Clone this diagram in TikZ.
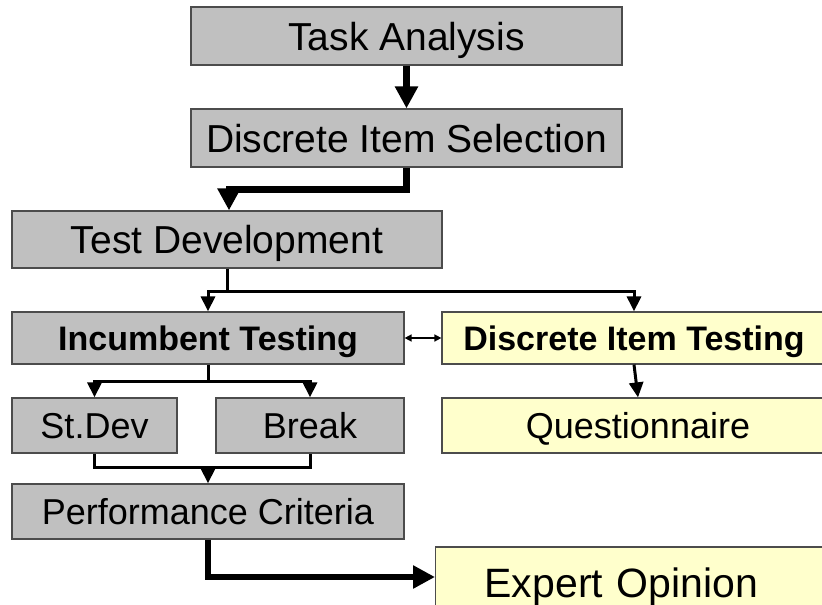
\documentclass[tikz,border=0pt]{standalone}
\usepackage{fontspec}
\setmainfont{Liberation Sans}
\usetikzlibrary{arrows.meta}
\definecolor{boxgray}{HTML}{C0C0C0}
\definecolor{boxyellow}{HTML}{FFFFCC}

\begin{document}
\begin{tikzpicture}[x=1pt,y=-1pt,
    box/.style={draw=black!70,line width=1.2pt,inner sep=0pt,text depth=0pt},
    graybox/.style={box,fill=boxgray},
    yelbox/.style={box,fill=boxyellow},
    bigtxt/.style={font=\fontsize{39}{39}\selectfont,text height=28pt},
    midtxt/.style={font=\fontsize{36}{36}\selectfont,text height=25.8pt},
    boldtxt/.style={font=\fontsize{34}{34}\selectfont\bfseries,text height=24.4pt},
    hugetxt/.style={font=\fontsize{41}{41}\selectfont,text height=29.4pt},
    bigflow/.style={line width=6.5pt,-{Triangle[length=22pt,width=22pt]}},
    splitline/.style={line width=3pt},
    flow/.style={line width=3pt,-{Triangle[length=15pt,width=14pt]}},
    both/.style={line width=1.5pt,{Triangle[length=7pt,width=7pt]}-{Triangle[length=7pt,width=7pt]}}]
      \useasboundingbox (0,0) rectangle (822,605);
      \clip (0,0) rectangle (822,605);

      \node[graybox,bigtxt,minimum width=431,minimum height=58] (task) at (406.5,36) {Task Analysis};
      \node[graybox,bigtxt,minimum width=431,minimum height=58] (select) at (406.5,138) {Discrete Item Selection};
      \node[graybox,bigtxt,minimum width=430,minimum height=57] (develop) at (227,239.5) {Test Development};
      \node[graybox,boldtxt,minimum width=392,minimum height=52] (incumbent) at (208,338) {Incumbent Testing};
      \node[yelbox,boldtxt,minimum width=384,minimum height=52] (itemtest) at (634,338) {Discrete Item Testing};
      \node[graybox,midtxt,minimum width=165,minimum height=55] (stdev) at (94.5,425.5) {St.Dev};
      \node[graybox,midtxt,minimum width=188,minimum height=55] (brk) at (310,425.5) {Break};
      \node[yelbox,midtxt,minimum width=392,minimum height=55] (quest) at (638,425.5) {Questionnaire};
      \node[graybox,midtxt,minimum width=392,minimum height=55] (perf) at (208,511.5) {Performance Criteria};
      \node[yelbox,hugetxt,anchor=west,minimum height=71,text width=297pt,inner xsep=49pt,align=left] (expert) at (435,582.5) {Expert Opinion};

      \draw[bigflow] (task) -- (select);
      \draw[bigflow] (select.south) -- ++(0,22) -| ([xshift=2pt]develop.north);

      \draw[splitline] (develop.south) -- ++(0,23) coordinate (fork);
      \draw[flow] (fork) -| (incumbent.north);
      \draw[flow] (fork) -| (itemtest.north);
      \draw[both] (incumbent) -- (itemtest);

      \draw[splitline] (incumbent.south) -- ++(0,17) coordinate (fork2);
      \draw[flow] (fork2) -| (stdev.north);
      \draw[flow] (fork2) -| (brk.north);
      \draw[flow] (itemtest.south) -- (quest.north);

      \coordinate (join) at ([yshift=16pt]perf.north);
      \draw[splitline] (stdev.south) |- (join) -| (brk.south);
      \draw[flow] (join) -- (perf.north);
      \draw[bigflow] (perf.south) |- ([yshift=5.5pt]expert.west);
    \end{tikzpicture}
\end{document}
